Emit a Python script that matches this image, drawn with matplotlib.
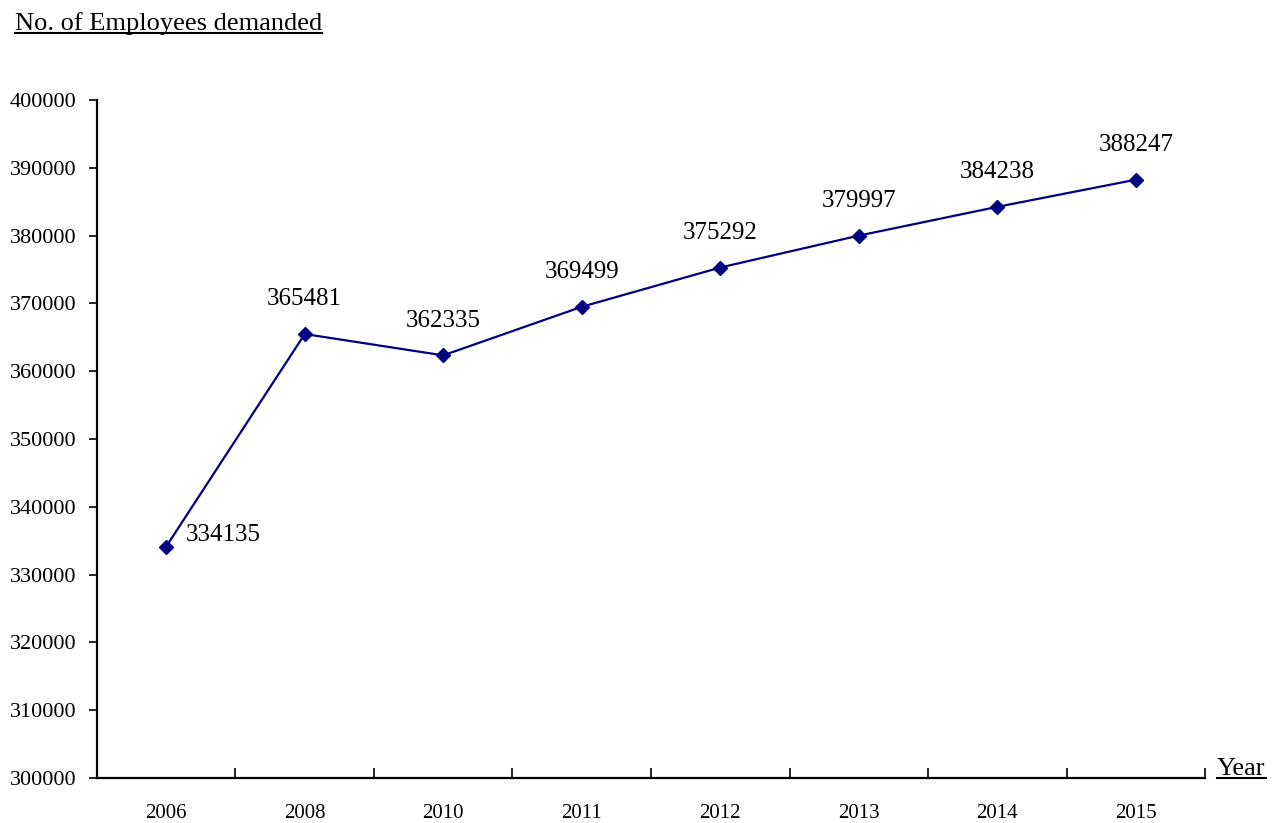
import matplotlib.pyplot as plt
import numpy as np
from matplotlib.lines import Line2D

plt.rcParams['font.family'] = ['Liberation Serif', 'DejaVu Serif']

years = ['2006', '2008', '2010', '2011', '2012', '2013', '2014', '2015']
employees = [334135, 365481, 362335, 369499, 375292, 379997, 384238, 388247]

fig = plt.figure(figsize=(12.79, 8.23), dpi=100)
ax = fig.add_axes([0.0758, 0.0547, 0.8664, 0.8238])

x = np.arange(len(years)) + 0.5
ax.plot(x, employees, color='#000080', lw=1.6, marker='D', ms=7.5,
        markerfacecolor='#000080', markeredgecolor='#000080')

for i, (xi, v) in enumerate(zip(x, employees)):
    if i == 0:
        ax.annotate(str(v), (xi, v), xytext=(14, 8), textcoords='offset points',
                    ha='left', va='center', fontsize=18)
    else:
        ax.annotate(str(v), (xi, v), xytext=(0, 17), textcoords='offset points',
                    ha='center', va='bottom', fontsize=18)

ax.set_xlim(0, len(years))
ax.set_ylim(300000, 400000)
ax.set_yticks(np.arange(300000, 400001, 10000))
ax.tick_params(axis='y', direction='out', length=6, width=1.2, labelsize=16, pad=9)

# category boundaries get the ticks, labels sit between them
ax.set_xticks(np.arange(0, len(years) + 1))
ax.set_xticklabels([])
ax.set_xticks(x, minor=True)
ax.set_xticklabels(years, minor=True, fontsize=15)
ax.tick_params(axis='x', which='major', direction='in', length=7, width=1.2)
ax.tick_params(axis='x', which='minor', length=0, pad=19)

for s in ['top', 'right']:
    ax.spines[s].set_visible(False)
for s in ['left', 'bottom']:
    ax.spines[s].set_linewidth(1.6)

t1 = fig.text(15 / 1279, 1 - 30 / 823, 'No. of Employees demanded', fontsize=19,
              ha='left', va='baseline')
t2 = fig.text(1217 / 1279, 1 - 775 / 823, 'Year', fontsize=19,
              ha='left', va='baseline')

fig.canvas.draw()
r = fig.canvas.get_renderer()
W, H = fig.bbox.width, fig.bbox.height
for t in (t1, t2):
    bb = t.get_window_extent(r)
    yl = (bb.y0 + 2) / H
    fig.add_artist(Line2D([bb.x0 / W, bb.x1 / W], [yl, yl], color='black', lw=1.5,
                          transform=fig.transFigure))

fig.savefig('out.png', dpi=100)
